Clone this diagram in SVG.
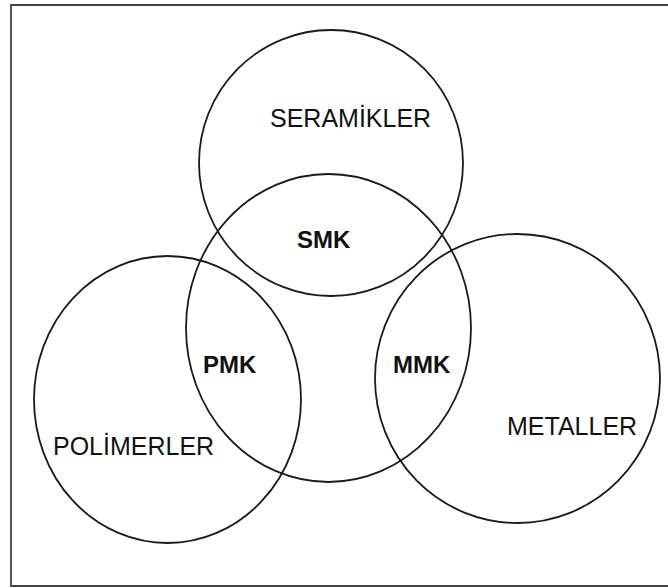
<svg xmlns="http://www.w3.org/2000/svg" width="668" height="588" viewBox="0 0 668 588">
  <style>
    .set { fill: none; stroke: #1a1a1a; stroke-width: 1.8; }
    .frame { fill: none; stroke: #444; stroke-width: 1.8; }
    .name { font-family: "Liberation Sans", Arial, sans-serif; font-size: 25px; fill: #111; }
    .mix { font-family: "Liberation Sans", Arial, sans-serif; font-size: 24px; font-weight: bold; fill: #111; }
  </style>
  <rect width="668" height="588" fill="#fff"/>
  <!-- outer frame (open on the right side) -->
  <path class="frame" d="M 680 5 L 11 5 L 11 586 L 680 586"/>

  <g id="seramikler">
    <ellipse class="set" cx="331" cy="163" rx="132" ry="133"/>
    <text class="name" x="270" y="127">SERAMİKLER</text>
  </g>
  <g id="matris">
    <ellipse class="set" cx="328.5" cy="328" rx="142.5" ry="154"/>
  </g>
  <g id="polimerler">
    <ellipse class="set" cx="167.5" cy="399.5" rx="133.5" ry="143.5"/>
    <text class="name" x="53" y="455">POLİMERLER</text>
  </g>
  <g id="metaller">
    <ellipse class="set" cx="517.5" cy="378.5" rx="142.5" ry="144.5"/>
    <text class="name" x="507" y="435">METALLER</text>
  </g>
  <g id="smk">
    <text class="mix" x="297" y="248">SMK</text>
  </g>
  <g id="pmk">
    <text class="mix" x="203" y="373">PMK</text>
  </g>
  <g id="mmk">
    <text class="mix" x="393" y="373">MMK</text>
  </g>
</svg>
